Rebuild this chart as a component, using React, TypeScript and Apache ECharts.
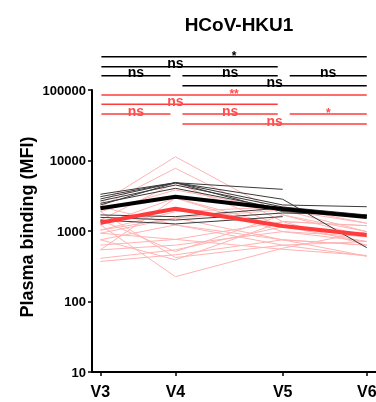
import React, { useEffect, useRef } from "react";
import * as echarts from "echarts";

// ---- data ----
const visits = ["V3", "V4", "V5", "V6"];
const visitX = [0, 1, 2.43, 3.55];
const yTickValues = [10, 100, 1000, 10000, 100000];

const blackSubjects: (number | null)[][] = [
  [3320, 4840, 3900, null],
  [3070, 4840, 2820, 580],
  [2850, 4840, 2340, 2210],
  [2670, 4490, 2190, 1690],
  [2470, 4030, 2050, 1560],
  [2340, 4840, 1880, 1690],
  [1690, 1600, 2120, 1560],
  [1560, 1430, 1800, 1690],
  [1430, 1260, 1600, null],
];

const redSubjects: (number | null)[][] = [
  [2470, 11300, 1690, 980],
  [2210, 7750, 1360, 1190],
  [1880, 3820, 1990, 1290],
  [1430, 4840, 1150, 830],
  [1220, 2940, 980, 710],
  [1030, 1880, 2210, 1290],
  [930, 1530, 750, 630],
  [750, 1220, 630, 440],
  [630, 760, 550, 450],
  [540, 630, 980, 830],
  [410, 540, 1150, 710],
  [370, 460, 750, 630],
  [1220, 225, 570, 980],
  [750, 390, 1360, 1190],
  [1880, 420, 630, 710],
  [1430, 510, 1690, 830],
  [1030, 1530, 1990, 980],
  [540, 2940, 1150, null],
  [930, 760, 1360, 630],
  [2210, 1220, 750, 440],
];

const blackMean = [2100, 3070, 2050, 1580];
const redMean = [1310, 2070, 1180, 877];

// pairwise comparisons (visit indices) and their results
const testPairs = [
  [0, 3],
  [0, 2],
  [0, 1],
  [1, 2],
  [2, 3],
  [1, 3],
];
const blackResults = ["*", "ns", "ns", "ns", "ns", "ns"];
const redResults = ["**", "ns", "ns", "ns", "*", "ns"];
const testLabelAtVisit: (number | null)[] = [null, 1, null, null, null, null];

// ---- layout / style ----
const FONT = "'Liberation Sans', Arial, Helvetica, sans-serif";
const PINK = "#ffb3b3";
const DARK = "#3a3a3a";
const RED = "#ff3b3b";
const RED_TEXT = "#ff4d4d";
const testRow = [0, 1, 2, 2, 2, 3];
const blackRowY = [56.7, 66.7, 75.7, 85.7];
const redRowY = [95, 104.3, 114, 124];

function toPoints(vals: (number | null)[]) {
  const pts: [number, number][] = [];
  vals.forEach((v, i) => {
    if (v != null) pts.push([visitX[i], v]);
  });
  return pts;
}

export default function App() {
  const ref = useRef<HTMLDivElement>(null);

  useEffect(() => {
    if (!ref.current) return;
    const chart = echarts.init(ref.current, null, { renderer: "svg" });

    const thin = (vals: (number | null)[], color: string, z: number) => ({
      type: "line",
      data: toPoints(vals),
      showSymbol: false,
      symbol: "none",
      silent: true,
      z,
      lineStyle: { color, width: 1 },
    });

    const series: any[] = [
      ...redSubjects.map((s) => thin(s, PINK, 2)),
      ...blackSubjects.map((s) => thin(s, DARK, 3)),
      {
        type: "line",
        data: toPoints(redMean),
        showSymbol: false,
        symbol: "none",
        silent: true,
        z: 4,
        lineStyle: { color: RED, width: 4 },
      },
      {
        type: "line",
        data: toPoints(blackMean),
        showSymbol: false,
        symbol: "none",
        silent: true,
        z: 5,
        lineStyle: { color: "#000", width: 4 },
      },
    ];

    const nearestVisit = (v: number) => {
      let best = 0;
      visitX.forEach((x, i) => {
        if (Math.abs(x - v) < Math.abs(visitX[best] - v)) best = i;
      });
      return best;
    };

    chart.setOption({
      animation: false,
      title: {
        text: "HCoV-HKU1",
        left: 234,
        top: 10,
        textAlign: "center",
        textStyle: { fontFamily: FONT, fontWeight: "bold", fontSize: 19, color: "#000" },
      },
      grid: { left: 92, top: 90, right: -2, bottom: 30, containLabel: false, outerBoundsMode: "none" },
      xAxis: {
        type: "value",
        min: -0.112,
        max: 3.7,
        splitLine: { show: false },
        axisLine: { show: true, onZero: false, lineStyle: { color: "#000", width: 2 } },
        axisTick: {
          show: true,
          customValues: visitX,
          length: 4,
          lineStyle: { color: "#000", width: 1.5 },
        },
        axisLabel: {
          customValues: visitX,
          formatter: (v: number) => visits[nearestVisit(v)],
          fontFamily: FONT,
          fontWeight: "bold",
          fontSize: 16,
          color: "#000",
          margin: 11,
        },
      },
      yAxis: {
        type: "log",
        logBase: 10,
        min: 10,
        max: 100000,
        splitLine: { show: false },
        minorTick: { show: false },
        axisLine: { show: true, onZero: false, lineStyle: { color: "#000", width: 2 } },
        axisTick: { show: true, length: 4, lineStyle: { color: "#000", width: 1.5 } },
        axisLabel: {
          customValues: yTickValues,
          formatter: (v: number) => String(Math.round(v)),
          fontFamily: FONT,
          fontWeight: "bold",
          fontSize: 13,
          color: "#000",
          margin: 6,
        },
      },
      series,
    });

    const px = (i: number) => chart.convertToPixel({ xAxisIndex: 0 }, visitX[i]) as number;
    const testLabelAt = (k: number) => testLabelAtVisit[k];
    const graphics: any[] = [];

    const addTests = (results: string[], rowY: number[], color: string, textColor: string) => {
      testPairs.forEach(([from, to], k) => {
        const y = rowY[testRow[k]];
        const x1 = px(from) + (from === 0 ? 1 : 7);
        const x2 = px(to) - (to === visits.length - 1 ? 0 : 5);
        graphics.push({
          type: "line",
          silent: true,
          z: 10,
          shape: { x1, y1: y, x2, y2: y },
          style: { stroke: color, lineWidth: 1.5 },
        });
        const at = testLabelAt(k);
        const lx = at != null ? px(at) : (x1 + x2) / 2;
        const isStar = results[k].startsWith("*");
        graphics.push({
          type: "text",
          silent: true,
          z: 11,
          x: lx,
          y: isStar ? y + 5 : y + 3.5,
          style: {
            text: results[k],
            fill: textColor,
            font: `bold ${isStar ? 12 : 14}px ${FONT}`,
            align: "center",
            verticalAlign: "bottom",
          },
        });
      });
    };

    addTests(blackResults, blackRowY, "#000", "#000");
    addTests(redResults, redRowY, RED, RED_TEXT);

    graphics.push({
      type: "text",
      silent: true,
      x: 27,
      y: 227,
      rotation: Math.PI / 2,
      style: {
        text: "Plasma binding (MFI)",
        fill: "#000",
        font: `bold 18px ${FONT}`,
        align: "center",
        verticalAlign: "middle",
      },
    });

    chart.setOption({ graphic: graphics });

    return () => chart.dispose();
  }, []);

  return (
    <div
      ref={ref}
      style={{ position: "fixed", left: 0, top: 0, width: 376, height: 402 }}
    />
  );
}
